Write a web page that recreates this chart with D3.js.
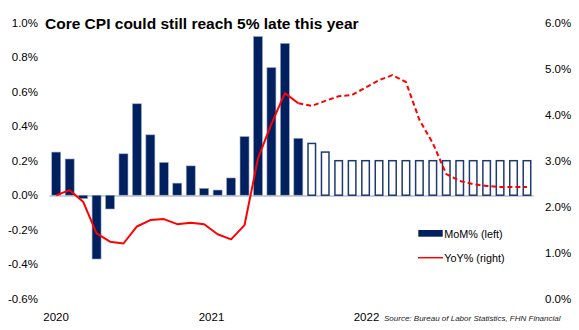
<!DOCTYPE html>
<html>
<head>
<meta charset="utf-8">
<script src="https://cdn.jsdelivr.net/npm/d3@7"></script>
<style>
  html, body { margin: 0; padding: 0; background: #ffffff; }
  svg { display: block; font-family: "Liberation Sans", Arial, sans-serif; }
</style>
</head>
<body>
<svg id="chart" width="579" height="330"></svg>
<script>
// ---- data ----
const title = "Core CPI could still reach 5% late this year";
const sourceText = "Source:  Bureau of Labor Statistics, FHN Financial";
const startMonth = new Date(2020, 0, 1);
const months = d3.timeMonth.range(startMonth, new Date(2023, 0, 1)).map(d3.timeFormat("%Y-%m"));
// Month-over-month core CPI (%), left axis; first 19 actual, rest forecast
const momValues = [0.25, 0.21, -0.02, -0.37, -0.08, 0.24, 0.53, 0.35, 0.19, 0.07, 0.17, 0.04,
                   0.03, 0.10, 0.34, 0.92, 0.74, 0.88, 0.33,
                   0.30, 0.25, 0.20, 0.20, 0.20, 0.20, 0.20, 0.20, 0.20, 0.20, 0.20, 0.20, 0.20, 0.20, 0.20, 0.20, 0.20];
const actualCount = 19;
// Year-over-year core CPI (%), right axis
const yoyActual = [2.25, 2.36, 2.11, 1.42, 1.24, 1.20, 1.57, 1.71, 1.73, 1.62, 1.65, 1.62,
                   1.40, 1.29, 1.60, 3.05, 3.80, 4.47, 4.25];
const yoyForecast = [4.19, 4.30, 4.40, 4.43, 4.59, 4.75, 4.86, 4.71, 3.89, 3.38, 2.71, 2.56, 2.49, 2.45, 2.43, 2.43, 2.43];
const leftTicks = [-0.6, -0.4, -0.2, 0.0, 0.2, 0.4, 0.6, 0.8, 1.0];
const rightTicks = [0, 1, 2, 3, 4, 5, 6];
const legendLabels = ["MoM% (left)", "YoY% (right)"];

// ---- layout ----
const svg = d3.select("#chart");
const plotTop = 22.7, plotBottom = 298.7;
const navy = "#002060";
const red = "#ff0000";

const x = d3.scaleBand().domain(months).range([49.5, 533.7]).paddingInner(0.33).paddingOuter(0.165);
const yL = d3.scaleLinear().domain([-0.6, 1.0]).range([plotBottom, plotTop]);
const yR = d3.scaleLinear().domain([0, 6]).range([plotBottom, plotTop]);
const xTime = d3.scaleTime().domain([new Date(2020, 0, 1), new Date(2022, 0, 1)]).range([55.6, 366]);

// zero line
svg.append("line")
  .attr("x1", x.range()[0]).attr("x2", x.range()[1])
  .attr("y1", yL(0) + 0.8).attr("y2", yL(0) + 0.8)
  .attr("stroke", "#c9d0dd").attr("stroke-width", 2.2);

// bars
const bw = x.bandwidth();
const barData = momValues.map((v, i) => ({ m: months[i], v, actual: i < actualCount }));
svg.append("g").selectAll("rect").data(barData).join("rect")
  .attr("x", d => d.actual ? x(d.m) : x(d.m) + 0.75)
  .attr("width", d => d.actual ? bw : bw - 1.5)
  .attr("y", d => d.v >= 0 ? yL(d.v) : yL(0))
  .attr("height", d => Math.abs(yL(d.v) - yL(0)))
  .attr("fill", d => d.actual ? navy : "#ffffff")
  .attr("stroke", d => d.actual ? "#9fabc6" : "#1f3a70")
  .attr("stroke-width", d => d.actual ? 0.6 : 1.5);

// YoY lines
const cx = m => x(m) + bw / 2;
const line = d3.line().x(d => cx(d.m)).y(d => yR(d.v));
const actualPts = yoyActual.map((v, i) => ({ m: months[i], v }));
const forecastPts = [actualPts[actualPts.length - 1]].concat(
  yoyForecast.map((v, i) => ({ m: months[actualCount + i], v })));
svg.append("path").datum(forecastPts).attr("d", line)
  .attr("fill", "none").attr("stroke", red).attr("stroke-width", 2)
  .attr("stroke-dasharray", "5,3");
svg.append("path").datum(actualPts).attr("d", line)
  .attr("fill", "none").attr("stroke", red).attr("stroke-width", 2)
  .attr("stroke-linejoin", "round");

// left axis
const gL = svg.append("g").attr("transform", "translate(38,0)")
  .call(d3.axisLeft(yL).tickValues(leftTicks).tickSize(0).tickPadding(0)
    .tickFormat(d => d.toFixed(1) + "%"));
gL.select(".domain").remove();
gL.selectAll("text").attr("font-size", "11.5px").attr("fill", "#000")
  .attr("font-family", "'Liberation Sans', Arial, sans-serif");

// right axis
const gR = svg.append("g").attr("transform", "translate(545,0)")
  .call(d3.axisRight(yR).tickValues(rightTicks).tickSize(0).tickPadding(0)
    .tickFormat(d => d.toFixed(1) + "%"));
gR.select(".domain").remove();
gR.selectAll("text").attr("font-size", "11.5px").attr("fill", "#000")
  .attr("font-family", "'Liberation Sans', Arial, sans-serif");

// x axis (years)
const gX = svg.append("g").attr("transform", "translate(0,312.5)")
  .call(d3.axisBottom(xTime).ticks(d3.timeYear.every(1)).tickSize(0).tickPadding(0)
    .tickFormat(d3.timeFormat("%Y")));
gX.select(".domain").remove();
gX.selectAll("text").attr("font-size", "11.5px").attr("fill", "#000")
  .attr("font-family", "'Liberation Sans', Arial, sans-serif");

// title
svg.append("text").attr("x", 45).attr("y", 29.3)
  .attr("font-size", "15.5px").attr("font-weight", "bold").attr("fill", "#000")
  .text(title);

// source
svg.append("text").attr("x", 384).attr("y", 321)
  .attr("font-size", "8px").attr("font-style", "italic").attr("fill", "#222")
  .text(sourceText);

// legend
const lg = svg.append("g");
lg.append("rect").attr("x", 418.3).attr("y", 230).attr("width", 24.4).attr("height", 6.7).attr("fill", navy);
lg.append("text").attr("x", 444.3).attr("y", 237.8).attr("font-size", "10.8px").attr("fill", "#000").text(legendLabels[0]);
lg.append("line").attr("x1", 418).attr("x2", 443).attr("y1", 257.7).attr("y2", 257.7)
  .attr("stroke", red).attr("stroke-width", 1.5);
lg.append("text").attr("x", 444.3).attr("y", 262).attr("font-size", "10.8px").attr("fill", "#000").text(legendLabels[1]);
</script>
</body>
</html>
